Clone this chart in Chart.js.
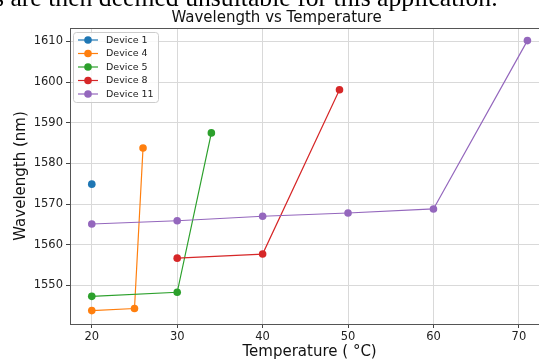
<!DOCTYPE html>
<html>
<head>
<meta charset="utf-8">
<script src="https://cdn.jsdelivr.net/npm/chart.js@4.4.0/dist/chart.umd.min.js"></script>
<style>
  html, body { margin: 0; padding: 0; background: #fff; }
  #wrap { position: relative; width: 539px; height: 360px; overflow: hidden; }
  #doc { position: absolute; left: -6px; top: -15px; font-family: "Liberation Serif", "DejaVu Serif", serif;
         font-size: 25.7px; line-height: 1; white-space: nowrap; color: #000; z-index: 2; }
  canvas { position: absolute; left: 0; top: 0; }
</style>
</head>
<body>
<div id="wrap">
  <div id="doc">s are then deemed unsuitable for this application.</div>
  <canvas id="chart" width="553" height="360" style="width:553px;height:360px"></canvas>
</div>
<script>
// data
const deviceNames = ['Device 1', 'Device 4', 'Device 5', 'Device 8', 'Device 11'];
const colores = ['#1f77b4', '#ff7f0e', '#2ca02c', '#d62728', '#9467bd'];
const temp1 = [20];
const wl1 = [1574.9];
const temp4 = [20, 25, 26];
const wl4 = [1543.8, 1544.3, 1583.8];
const temp5 = [20, 30, 34];
const wl5 = [1547.3, 1548.3, 1587.5];
const temp8 = [30, 40, 49];
const wl8 = [1556.7, 1557.7, 1598.1];
const temp11 = [20, 30, 40, 50, 60, 71];
const wl11 = [1565.1, 1565.9, 1567.0, 1567.8, 1568.8, 1610.2];
const xTicks = [20, 30, 40, 50, 60, 70];
const yTicks = [1550, 1560, 1570, 1580, 1590, 1600, 1610];

const temps = [temp1, temp4, temp5, temp8, temp11];
const wls = [wl1, wl4, wl5, wl8, wl11];

const datasets = deviceNames.map((name, i) => ({
  label: name,
  data: temps[i].map((t, j) => ({ x: t, y: wls[i][j] })),
  showLine: true,
  borderColor: colores[i],
  backgroundColor: colores[i],
  borderWidth: 1.2,
  pointRadius: 3.8,
  pointHoverRadius: 3.8,
  pointBorderWidth: 0,
  order: deviceNames.length - i
}));

const font = 'DejaVu Sans';

// legend box in the top left corner + top spine
const legendInside = {
  id: 'legendInside',
  afterDatasetsDraw(chart) {
    const ctx = chart.ctx;
    const a = chart.chartArea;
    ctx.save();
    ctx.strokeStyle = '#555';
    ctx.lineWidth = 1;
    ctx.beginPath();
    ctx.moveTo(a.left, a.top + 0.5);
    ctx.lineTo(a.right, a.top + 0.5);
    ctx.stroke();

    const x0 = a.left + 3.5, y0 = a.top + 4.5, w = 85, h = 70;
    ctx.fillStyle = 'rgba(255,255,255,0.8)';
    ctx.strokeStyle = '#cccccc';
    ctx.beginPath();
    ctx.roundRect(x0, y0, w, h, 3);
    ctx.fill();
    ctx.stroke();
    ctx.font = '9.5px "' + font + '"';
    ctx.textBaseline = 'middle';
    ctx.textAlign = 'left';
    chart.data.datasets.forEach((ds, i) => {
      const y = a.top + 12 + i * 13.5;
      ctx.strokeStyle = ds.borderColor;
      ctx.lineWidth = 1.2;
      ctx.beginPath();
      ctx.moveTo(a.left + 8, y);
      ctx.lineTo(a.left + 28, y);
      ctx.stroke();
      ctx.fillStyle = ds.backgroundColor;
      ctx.beginPath();
      ctx.arc(a.left + 18, y, 3.8, 0, Math.PI * 2);
      ctx.fill();
      ctx.fillStyle = '#222';
      ctx.fillText(ds.label, a.left + 36, y + 0.5);
    });
    ctx.restore();
  }
};

new Chart(document.getElementById('chart'), {
  type: 'scatter',
  data: { datasets: datasets },
  options: {
    responsive: false,
    animation: false,
    layout: { padding: 0 },
    plugins: {
      legend: { display: false },
      tooltip: { enabled: false },
      title: {
        display: true,
        text: 'Wavelength vs Temperature',
        color: '#111',
        font: { family: font, size: 15, weight: 'normal' },
        padding: { top: 9, bottom: 1 }
      }
    },
    scales: {
      x: {
        type: 'linear',
        min: 17.45,
        max: 73.55,
        afterBuildTicks: s => { s.ticks = xTicks.map(v => ({ value: v })); },
        afterFit: s => { s.height = 36; },
        grid: { color: '#d9d9d9', lineWidth: 1, tickLength: 4, tickColor: '#444', drawTicks: true },
        border: { color: '#555', width: 1 },
        ticks: { color: '#222', font: { family: font, size: 11.5 }, padding: 2, maxRotation: 0,
                 callback: v => String(v) },
        title: { display: true, text: 'Temperature ( °C)', color: '#111',
                 font: { family: font, size: 15 }, padding: { top: 0, bottom: -1 } }
      },
      y: {
        type: 'linear',
        min: 1540.5,
        max: 1613.3,
        afterBuildTicks: s => { s.ticks = yTicks.map(v => ({ value: v })); },
        afterFit: s => { s.width = 70; },
        grid: { color: '#d9d9d9', lineWidth: 1, tickLength: 4, tickColor: '#444', drawTicks: true },
        border: { color: '#555', width: 1 },
        ticks: { color: '#222', font: { family: font, size: 11.5 }, padding: 3,
                 callback: v => String(v) },
        title: { display: true, text: 'Wavelength (nm)', color: '#111',
                 font: { family: font, size: 15 }, padding: { top: 12, bottom: 0 } }
      }
    }
  },
  plugins: [legendInside]
});
</script>
</body>
</html>
